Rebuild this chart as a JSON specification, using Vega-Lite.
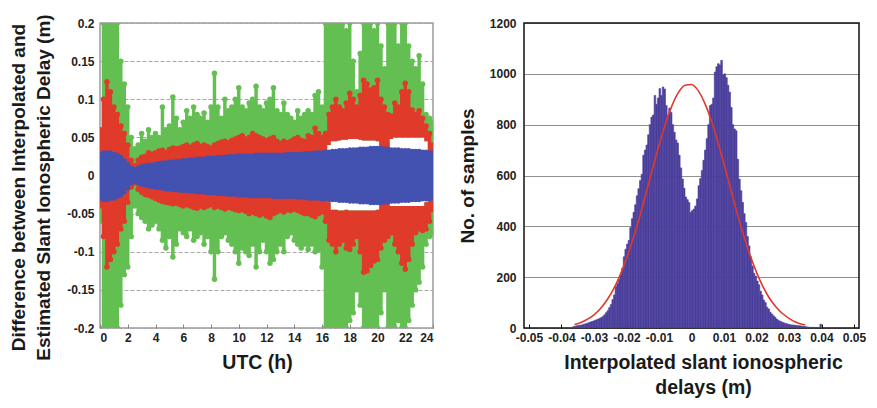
{
  "$schema": "https://vega.github.io/schema/vega-lite/v6.json",
  "padding": {"left": 8, "top": 13, "right": 5, "bottom": 5},
  "background": "white",
  "config": {
    "font": "Liberation Sans",
    "axis": {"labelFont": "Liberation Sans", "labelFontWeight": "bold", "labelFontSize": 12, "labelColor": "#222", "titleFont": "Liberation Sans", "titleFontWeight": "bold", "titleColor": "#1a1a1a", "ticks": false, "domain": false, "labelPadding": 6, "labelExpr": "'' + datum.value"},
    "axisX": {"tickCount": 10},
    "axisY": {"tickCount": 8},
    "concat": {"spacing": 22}
  },
  "datasets": {
    "env": [
      {"t":0,"go":0.06,"ro":0.06,"ri":0.02,"bt":0.028,"bb":-0.03,"rin":-0.02,"rn":-0.04,"gn":-0.06},
      {"t":0.25,"go":0.2,"ro":0.1,"ri":0.02,"bt":0.03,"bb":-0.032,"rin":-0.02,"rn":-0.08,"gn":-0.2},
      {"t":0.5,"go":0.2,"ro":0.123,"ri":0.02,"bt":0.03,"bb":-0.032,"rin":-0.03,"rn":-0.12,"gn":-0.2},
      {"t":0.75,"go":0.2,"ro":0.11,"ri":0.02,"bt":0.03,"bb":-0.03,"rin":-0.02,"rn":-0.11,"gn":-0.2},
      {"t":1,"go":0.2,"ro":0.09,"ri":0.02,"bt":0.028,"bb":-0.03,"rin":-0.02,"rn":-0.1,"gn":-0.2},
      {"t":1.25,"go":0.2,"ro":0.08,"ri":0.02,"bt":0.027,"bb":-0.028,"rin":-0.02,"rn":-0.09,"gn":-0.2},
      {"t":1.5,"go":0.15,"ro":0.065,"ri":0.02,"bt":0.024,"bb":-0.026,"rin":-0.02,"rn":-0.07,"gn":-0.17},
      {"t":1.75,"go":0.12,"ro":0.055,"ri":0.015,"bt":0.02,"bb":-0.022,"rin":-0.015,"rn":-0.06,"gn":-0.13},
      {"t":2,"go":0.09,"ro":0.04,"ri":0.01,"bt":0.015,"bb":-0.017,"rin":-0.01,"rn":-0.035,"gn":-0.12},
      {"t":2.25,"go":0.05,"ro":0.02,"ri":0.005,"bt":0.01,"bb":-0.01,"rin":-0.005,"rn":-0.015,"gn":-0.08},
      {"t":2.5,"go":0.035,"ro":0.013,"ri":0.005,"bt":0.008,"bb":-0.008,"rin":-0.005,"rn":-0.01,"gn":-0.04},
      {"t":2.75,"go":0.04,"ro":0.02,"ri":0.006,"bt":0.01,"bb":-0.01,"rin":-0.006,"rn":-0.018,"gn":-0.05},
      {"t":3,"go":0.055,"ro":0.024,"ri":0.008,"bt":0.012,"bb":-0.012,"rin":-0.008,"rn":-0.022,"gn":-0.055},
      {"t":3.25,"go":0.045,"ro":0.025,"ri":0.01,"bt":0.013,"bb":-0.013,"rin":-0.01,"rn":-0.025,"gn":-0.06},
      {"t":3.5,"go":0.06,"ro":0.03,"ri":0.01,"bt":0.014,"bb":-0.014,"rin":-0.01,"rn":-0.026,"gn":-0.07},
      {"t":3.75,"go":0.05,"ro":0.028,"ri":0.01,"bt":0.014,"bb":-0.015,"rin":-0.01,"rn":-0.028,"gn":-0.065},
      {"t":4,"go":0.055,"ro":0.03,"ri":0.01,"bt":0.015,"bb":-0.016,"rin":-0.01,"rn":-0.03,"gn":-0.06},
      {"t":4.25,"go":0.05,"ro":0.032,"ri":0.01,"bt":0.016,"bb":-0.016,"rin":-0.01,"rn":-0.032,"gn":-0.07},
      {"t":4.5,"go":0.09,"ro":0.033,"ri":0.012,"bt":0.017,"bb":-0.017,"rin":-0.012,"rn":-0.034,"gn":-0.085},
      {"t":4.75,"go":0.06,"ro":0.03,"ri":0.012,"bt":0.017,"bb":-0.018,"rin":-0.012,"rn":-0.035,"gn":-0.095},
      {"t":5,"go":0.065,"ro":0.034,"ri":0.012,"bt":0.018,"bb":-0.018,"rin":-0.012,"rn":-0.036,"gn":-0.08},
      {"t":5.25,"go":0.103,"ro":0.036,"ri":0.013,"bt":0.018,"bb":-0.019,"rin":-0.013,"rn":-0.037,"gn":-0.107},
      {"t":5.5,"go":0.075,"ro":0.035,"ri":0.013,"bt":0.019,"bb":-0.019,"rin":-0.013,"rn":-0.036,"gn":-0.09},
      {"t":5.75,"go":0.06,"ro":0.036,"ri":0.013,"bt":0.019,"bb":-0.02,"rin":-0.013,"rn":-0.038,"gn":-0.07},
      {"t":6,"go":0.07,"ro":0.038,"ri":0.014,"bt":0.02,"bb":-0.02,"rin":-0.014,"rn":-0.04,"gn":-0.075},
      {"t":6.25,"go":0.085,"ro":0.04,"ri":0.014,"bt":0.02,"bb":-0.02,"rin":-0.014,"rn":-0.038,"gn":-0.08},
      {"t":6.5,"go":0.075,"ro":0.037,"ri":0.014,"bt":0.021,"bb":-0.021,"rin":-0.014,"rn":-0.04,"gn":-0.07},
      {"t":6.75,"go":0.09,"ro":0.04,"ri":0.015,"bt":0.021,"bb":-0.021,"rin":-0.015,"rn":-0.042,"gn":-0.085},
      {"t":7,"go":0.08,"ro":0.042,"ri":0.015,"bt":0.022,"bb":-0.022,"rin":-0.015,"rn":-0.043,"gn":-0.08},
      {"t":7.25,"go":0.075,"ro":0.038,"ri":0.015,"bt":0.022,"bb":-0.022,"rin":-0.015,"rn":-0.04,"gn":-0.075},
      {"t":7.5,"go":0.082,"ro":0.04,"ri":0.015,"bt":0.022,"bb":-0.022,"rin":-0.015,"rn":-0.042,"gn":-0.09},
      {"t":7.75,"go":0.07,"ro":0.038,"ri":0.015,"bt":0.023,"bb":-0.023,"rin":-0.015,"rn":-0.04,"gn":-0.08},
      {"t":8,"go":0.09,"ro":0.036,"ri":0.015,"bt":0.023,"bb":-0.023,"rin":-0.015,"rn":-0.038,"gn":-0.1},
      {"t":8.25,"go":0.134,"ro":0.04,"ri":0.015,"bt":0.023,"bb":-0.023,"rin":-0.015,"rn":-0.042,"gn":-0.136},
      {"t":8.5,"go":0.09,"ro":0.042,"ri":0.016,"bt":0.024,"bb":-0.024,"rin":-0.016,"rn":-0.04,"gn":-0.1},
      {"t":8.75,"go":0.075,"ro":0.044,"ri":0.016,"bt":0.024,"bb":-0.024,"rin":-0.016,"rn":-0.042,"gn":-0.08},
      {"t":9,"go":0.1,"ro":0.045,"ri":0.016,"bt":0.024,"bb":-0.024,"rin":-0.016,"rn":-0.044,"gn":-0.075},
      {"t":9.25,"go":0.085,"ro":0.043,"ri":0.016,"bt":0.025,"bb":-0.025,"rin":-0.016,"rn":-0.042,"gn":-0.085},
      {"t":9.5,"go":0.09,"ro":0.046,"ri":0.017,"bt":0.025,"bb":-0.025,"rin":-0.017,"rn":-0.043,"gn":-0.09},
      {"t":9.75,"go":0.1,"ro":0.048,"ri":0.017,"bt":0.025,"bb":-0.025,"rin":-0.017,"rn":-0.045,"gn":-0.1},
      {"t":10,"go":0.115,"ro":0.05,"ri":0.017,"bt":0.026,"bb":-0.026,"rin":-0.017,"rn":-0.046,"gn":-0.115},
      {"t":10.25,"go":0.09,"ro":0.052,"ri":0.017,"bt":0.026,"bb":-0.026,"rin":-0.017,"rn":-0.045,"gn":-0.095},
      {"t":10.5,"go":0.085,"ro":0.048,"ri":0.017,"bt":0.026,"bb":-0.026,"rin":-0.017,"rn":-0.047,"gn":-0.1},
      {"t":10.75,"go":0.095,"ro":0.05,"ri":0.018,"bt":0.026,"bb":-0.027,"rin":-0.018,"rn":-0.05,"gn":-0.105},
      {"t":11,"go":0.1,"ro":0.055,"ri":0.018,"bt":0.026,"bb":-0.027,"rin":-0.018,"rn":-0.048,"gn":-0.09},
      {"t":11.25,"go":0.117,"ro":0.052,"ri":0.018,"bt":0.027,"bb":-0.027,"rin":-0.018,"rn":-0.05,"gn":-0.12},
      {"t":11.5,"go":0.09,"ro":0.05,"ri":0.018,"bt":0.027,"bb":-0.027,"rin":-0.018,"rn":-0.052,"gn":-0.1},
      {"t":11.75,"go":0.085,"ro":0.048,"ri":0.018,"bt":0.027,"bb":-0.027,"rin":-0.018,"rn":-0.05,"gn":-0.085},
      {"t":12,"go":0.095,"ro":0.046,"ri":0.018,"bt":0.027,"bb":-0.027,"rin":-0.018,"rn":-0.053,"gn":-0.1},
      {"t":12.25,"go":0.1,"ro":0.048,"ri":0.018,"bt":0.027,"bb":-0.027,"rin":-0.018,"rn":-0.055,"gn":-0.115},
      {"t":12.5,"go":0.115,"ro":0.05,"ri":0.018,"bt":0.027,"bb":-0.028,"rin":-0.018,"rn":-0.05,"gn":-0.11},
      {"t":12.75,"go":0.085,"ro":0.045,"ri":0.018,"bt":0.027,"bb":-0.028,"rin":-0.018,"rn":-0.048,"gn":-0.1},
      {"t":13,"go":0.08,"ro":0.042,"ri":0.018,"bt":0.027,"bb":-0.028,"rin":-0.018,"rn":-0.046,"gn":-0.09},
      {"t":13.25,"go":0.095,"ro":0.045,"ri":0.018,"bt":0.027,"bb":-0.028,"rin":-0.018,"rn":-0.048,"gn":-0.1},
      {"t":13.5,"go":0.08,"ro":0.043,"ri":0.018,"bt":0.028,"bb":-0.028,"rin":-0.018,"rn":-0.045,"gn":-0.08},
      {"t":13.75,"go":0.075,"ro":0.045,"ri":0.018,"bt":0.028,"bb":-0.028,"rin":-0.018,"rn":-0.046,"gn":-0.075},
      {"t":14,"go":0.07,"ro":0.048,"ri":0.018,"bt":0.028,"bb":-0.028,"rin":-0.018,"rn":-0.044,"gn":-0.085},
      {"t":14.25,"go":0.085,"ro":0.05,"ri":0.018,"bt":0.028,"bb":-0.029,"rin":-0.018,"rn":-0.046,"gn":-0.09},
      {"t":14.5,"go":0.075,"ro":0.046,"ri":0.018,"bt":0.028,"bb":-0.029,"rin":-0.018,"rn":-0.048,"gn":-0.095},
      {"t":14.75,"go":0.08,"ro":0.045,"ri":0.018,"bt":0.029,"bb":-0.029,"rin":-0.018,"rn":-0.05,"gn":-0.09},
      {"t":15,"go":0.085,"ro":0.052,"ri":0.019,"bt":0.029,"bb":-0.03,"rin":-0.019,"rn":-0.05,"gn":-0.097},
      {"t":15.25,"go":0.08,"ro":0.05,"ri":0.019,"bt":0.029,"bb":-0.03,"rin":-0.019,"rn":-0.052,"gn":-0.09},
      {"t":15.5,"go":0.105,"ro":0.062,"ri":0.019,"bt":0.03,"bb":-0.03,"rin":-0.019,"rn":-0.054,"gn":-0.1},
      {"t":15.75,"go":0.11,"ro":0.055,"ri":0.019,"bt":0.03,"bb":-0.03,"rin":-0.019,"rn":-0.05,"gn":-0.097},
      {"t":16,"go":0.09,"ro":0.05,"ri":0.02,"bt":0.03,"bb":-0.031,"rin":-0.02,"rn":-0.048,"gn":-0.12},
      {"t":16.25,"go":0.2,"ro":0.055,"ri":0.02,"bt":0.031,"bb":-0.031,"rin":-0.02,"rn":-0.06,"gn":-0.2},
      {"t":16.5,"go":0.2,"ro":0.08,"ri":0.04,"bt":0.031,"bb":-0.032,"rin":-0.035,"rn":-0.085,"gn":-0.2},
      {"t":16.75,"go":0.2,"ro":0.09,"ri":0.045,"bt":0.032,"bb":-0.032,"rin":-0.045,"rn":-0.09,"gn":-0.2},
      {"t":17,"go":0.2,"ro":0.1,"ri":0.045,"bt":0.032,"bb":-0.032,"rin":-0.045,"rn":-0.1,"gn":-0.2},
      {"t":17.25,"go":0.2,"ro":0.09,"ri":0.046,"bt":0.033,"bb":-0.033,"rin":-0.046,"rn":-0.09,"gn":-0.2},
      {"t":17.5,"go":0.2,"ro":0.085,"ri":0.047,"bt":0.033,"bb":-0.033,"rin":-0.046,"rn":-0.085,"gn":-0.2},
      {"t":17.75,"go":0.19,"ro":0.095,"ri":0.047,"bt":0.033,"bb":-0.033,"rin":-0.045,"rn":-0.095,"gn":-0.2},
      {"t":18,"go":0.2,"ro":0.108,"ri":0.048,"bt":0.034,"bb":-0.034,"rin":-0.046,"rn":-0.097,"gn":-0.19},
      {"t":18.25,"go":0.15,"ro":0.1,"ri":0.048,"bt":0.034,"bb":-0.034,"rin":-0.046,"rn":-0.09,"gn":-0.18},
      {"t":18.5,"go":0.11,"ro":0.09,"ri":0.048,"bt":0.034,"bb":-0.034,"rin":-0.046,"rn":-0.08,"gn":-0.15},
      {"t":18.75,"go":0.16,"ro":0.105,"ri":0.047,"bt":0.035,"bb":-0.035,"rin":-0.046,"rn":-0.1,"gn":-0.17},
      {"t":19,"go":0.2,"ro":0.125,"ri":0.046,"bt":0.035,"bb":-0.035,"rin":-0.046,"rn":-0.127,"gn":-0.2},
      {"t":19.25,"go":0.2,"ro":0.12,"ri":0.046,"bt":0.035,"bb":-0.035,"rin":-0.046,"rn":-0.125,"gn":-0.2},
      {"t":19.5,"go":0.2,"ro":0.112,"ri":0.046,"bt":0.036,"bb":-0.036,"rin":-0.046,"rn":-0.118,"gn":-0.2},
      {"t":19.75,"go":0.19,"ro":0.115,"ri":0.046,"bt":0.036,"bb":-0.036,"rin":-0.046,"rn":-0.112,"gn":-0.2},
      {"t":20,"go":0.2,"ro":0.125,"ri":0.045,"bt":0.036,"bb":-0.036,"rin":-0.045,"rn":-0.11,"gn":-0.2},
      {"t":20.25,"go":0.17,"ro":0.1,"ri":0.03,"bt":0.036,"bb":-0.036,"rin":-0.03,"rn":-0.095,"gn":-0.18},
      {"t":20.5,"go":0.14,"ro":0.09,"ri":0.02,"bt":0.035,"bb":-0.035,"rin":-0.02,"rn":-0.085,"gn":-0.15},
      {"t":20.75,"go":0.2,"ro":0.08,"ri":0.03,"bt":0.035,"bb":-0.035,"rin":-0.03,"rn":-0.08,"gn":-0.2},
      {"t":21,"go":0.2,"ro":0.078,"ri":0.048,"bt":0.034,"bb":-0.034,"rin":-0.04,"rn":-0.075,"gn":-0.2},
      {"t":21.25,"go":0.2,"ro":0.095,"ri":0.05,"bt":0.034,"bb":-0.034,"rin":-0.04,"rn":-0.09,"gn":-0.2},
      {"t":21.5,"go":0.17,"ro":0.09,"ri":0.05,"bt":0.034,"bb":-0.034,"rin":-0.04,"rn":-0.1,"gn":-0.19},
      {"t":21.75,"go":0.2,"ro":0.11,"ri":0.05,"bt":0.033,"bb":-0.033,"rin":-0.04,"rn":-0.115,"gn":-0.2},
      {"t":22,"go":0.2,"ro":0.121,"ri":0.05,"bt":0.033,"bb":-0.033,"rin":-0.04,"rn":-0.123,"gn":-0.2},
      {"t":22.25,"go":0.17,"ro":0.11,"ri":0.05,"bt":0.033,"bb":-0.033,"rin":-0.04,"rn":-0.11,"gn":-0.19},
      {"t":22.5,"go":0.15,"ro":0.086,"ri":0.05,"bt":0.032,"bb":-0.032,"rin":-0.04,"rn":-0.09,"gn":-0.17},
      {"t":22.75,"go":0.14,"ro":0.08,"ri":0.05,"bt":0.032,"bb":-0.032,"rin":-0.04,"rn":-0.075,"gn":-0.15},
      {"t":23,"go":0.157,"ro":0.085,"ri":0.05,"bt":0.032,"bb":-0.032,"rin":-0.04,"rn":-0.07,"gn":-0.14},
      {"t":23.25,"go":0.12,"ro":0.075,"ri":0.05,"bt":0.031,"bb":-0.031,"rin":-0.04,"rn":-0.072,"gn":-0.12},
      {"t":23.5,"go":0.08,"ro":0.065,"ri":0.045,"bt":0.031,"bb":-0.031,"rin":-0.035,"rn":-0.07,"gn":-0.09},
      {"t":23.75,"go":0.075,"ro":0.055,"ri":0.02,"bt":0.03,"bb":-0.031,"rin":-0.02,"rn":-0.06,"gn":-0.08},
      {"t":24,"go":0.07,"ro":0.04,"ri":0.02,"bt":0.03,"bb":-0.03,"rin":-0.02,"rn":-0.045,"gn":-0.075}
    ],
    "hist": [
      {"b0":-0.0365,"b1":-0.036,"c":6},{"b0":-0.036,"b1":-0.0355,"c":7},{"b0":-0.0355,"b1":-0.035,"c":9},{"b0":-0.035,"b1":-0.0345,"c":10},
      {"b0":-0.0345,"b1":-0.034,"c":11},{"b0":-0.034,"b1":-0.0335,"c":12},{"b0":-0.0335,"b1":-0.033,"c":14},{"b0":-0.033,"b1":-0.0325,"c":16},
      {"b0":-0.0325,"b1":-0.032,"c":18},{"b0":-0.032,"b1":-0.0315,"c":20},{"b0":-0.0315,"b1":-0.031,"c":23},{"b0":-0.031,"b1":-0.0305,"c":25},
      {"b0":-0.0305,"b1":-0.03,"c":27},{"b0":-0.03,"b1":-0.0295,"c":30},{"b0":-0.0295,"b1":-0.029,"c":32},{"b0":-0.029,"b1":-0.0285,"c":35},
      {"b0":-0.0285,"b1":-0.028,"c":38},{"b0":-0.028,"b1":-0.0275,"c":41},{"b0":-0.0275,"b1":-0.027,"c":45},{"b0":-0.027,"b1":-0.0265,"c":52},
      {"b0":-0.0265,"b1":-0.026,"c":60},{"b0":-0.026,"b1":-0.0255,"c":68},{"b0":-0.0255,"b1":-0.025,"c":80},{"b0":-0.025,"b1":-0.0245,"c":92},
      {"b0":-0.0245,"b1":-0.024,"c":112},{"b0":-0.024,"b1":-0.0235,"c":130},{"b0":-0.0235,"b1":-0.023,"c":162},{"b0":-0.023,"b1":-0.0225,"c":175},
      {"b0":-0.0225,"b1":-0.022,"c":192},{"b0":-0.022,"b1":-0.0215,"c":210},{"b0":-0.0215,"b1":-0.021,"c":235},{"b0":-0.021,"b1":-0.0205,"c":280},
      {"b0":-0.0205,"b1":-0.02,"c":310},{"b0":-0.02,"b1":-0.0195,"c":330},{"b0":-0.0195,"b1":-0.019,"c":345},{"b0":-0.019,"b1":-0.0185,"c":395},
      {"b0":-0.0185,"b1":-0.018,"c":430},{"b0":-0.018,"b1":-0.0175,"c":455},{"b0":-0.0175,"b1":-0.017,"c":485},{"b0":-0.017,"b1":-0.0165,"c":520},
      {"b0":-0.0165,"b1":-0.016,"c":548},{"b0":-0.016,"b1":-0.0155,"c":580},{"b0":-0.0155,"b1":-0.015,"c":605},{"b0":-0.015,"b1":-0.0145,"c":680},
      {"b0":-0.0145,"b1":-0.014,"c":700},{"b0":-0.014,"b1":-0.0135,"c":720},{"b0":-0.0135,"b1":-0.013,"c":760},{"b0":-0.013,"b1":-0.0125,"c":800},
      {"b0":-0.0125,"b1":-0.012,"c":830},{"b0":-0.012,"b1":-0.0115,"c":838},{"b0":-0.0115,"b1":-0.011,"c":915},{"b0":-0.011,"b1":-0.0105,"c":880},
      {"b0":-0.0105,"b1":-0.01,"c":905},{"b0":-0.01,"b1":-0.0095,"c":942},{"b0":-0.0095,"b1":-0.009,"c":915},{"b0":-0.009,"b1":-0.0085,"c":948},
      {"b0":-0.0085,"b1":-0.008,"c":940},{"b0":-0.008,"b1":-0.0075,"c":875},{"b0":-0.0075,"b1":-0.007,"c":836},{"b0":-0.007,"b1":-0.0065,"c":865},
      {"b0":-0.0065,"b1":-0.006,"c":848},{"b0":-0.006,"b1":-0.0055,"c":800},{"b0":-0.0055,"b1":-0.005,"c":770},{"b0":-0.005,"b1":-0.0045,"c":740},
      {"b0":-0.0045,"b1":-0.004,"c":728},{"b0":-0.004,"b1":-0.0035,"c":680},{"b0":-0.0035,"b1":-0.003,"c":630},{"b0":-0.003,"b1":-0.0025,"c":586},
      {"b0":-0.0025,"b1":-0.002,"c":550},{"b0":-0.002,"b1":-0.0015,"c":515},{"b0":-0.0015,"b1":-0.001,"c":505},{"b0":-0.001,"b1":-0.0005,"c":494},
      {"b0":-0.0005,"b1":0,"c":455},{"b0":0,"b1":0.0005,"c":462},{"b0":0.0005,"b1":0.001,"c":468},{"b0":0.001,"b1":0.0015,"c":480},
      {"b0":0.0015,"b1":0.002,"c":508},{"b0":0.002,"b1":0.0025,"c":560},{"b0":0.0025,"b1":0.003,"c":588},{"b0":0.003,"b1":0.0035,"c":620},
      {"b0":0.0035,"b1":0.004,"c":660},{"b0":0.004,"b1":0.0045,"c":700},{"b0":0.0045,"b1":0.005,"c":745},{"b0":0.005,"b1":0.0055,"c":800},
      {"b0":0.0055,"b1":0.006,"c":875},{"b0":0.006,"b1":0.0065,"c":880},{"b0":0.0065,"b1":0.007,"c":905},{"b0":0.007,"b1":0.0075,"c":1007},
      {"b0":0.0075,"b1":0.008,"c":1028},{"b0":0.008,"b1":0.0085,"c":1040},{"b0":0.0085,"b1":0.009,"c":1035},{"b0":0.009,"b1":0.0095,"c":1053},
      {"b0":0.0095,"b1":0.01,"c":995},{"b0":0.01,"b1":0.0105,"c":1000},{"b0":0.0105,"b1":0.011,"c":985},{"b0":0.011,"b1":0.0115,"c":955},
      {"b0":0.0115,"b1":0.012,"c":928},{"b0":0.012,"b1":0.0125,"c":868},{"b0":0.0125,"b1":0.013,"c":800},{"b0":0.013,"b1":0.0135,"c":783},
      {"b0":0.0135,"b1":0.014,"c":776},{"b0":0.014,"b1":0.0145,"c":664},{"b0":0.0145,"b1":0.015,"c":586},{"b0":0.015,"b1":0.0155,"c":540},
      {"b0":0.0155,"b1":0.016,"c":494},{"b0":0.016,"b1":0.0165,"c":450},{"b0":0.0165,"b1":0.017,"c":415},{"b0":0.017,"b1":0.0175,"c":360},
      {"b0":0.0175,"b1":0.018,"c":323},{"b0":0.018,"b1":0.0185,"c":280},{"b0":0.0185,"b1":0.019,"c":244},{"b0":0.019,"b1":0.0195,"c":215},
      {"b0":0.0195,"b1":0.02,"c":204},{"b0":0.02,"b1":0.0205,"c":185},{"b0":0.0205,"b1":0.021,"c":170},{"b0":0.021,"b1":0.0215,"c":145},
      {"b0":0.0215,"b1":0.022,"c":130},{"b0":0.022,"b1":0.0225,"c":110},{"b0":0.0225,"b1":0.023,"c":100},{"b0":0.023,"b1":0.0235,"c":82},
      {"b0":0.0235,"b1":0.024,"c":75},{"b0":0.024,"b1":0.0245,"c":62},{"b0":0.0245,"b1":0.025,"c":55},{"b0":0.025,"b1":0.0255,"c":48},
      {"b0":0.0255,"b1":0.026,"c":42},{"b0":0.026,"b1":0.0265,"c":35},{"b0":0.0265,"b1":0.027,"c":30},{"b0":0.027,"b1":0.0275,"c":27},
      {"b0":0.0275,"b1":0.028,"c":24},{"b0":0.028,"b1":0.0285,"c":21},{"b0":0.0285,"b1":0.029,"c":19},{"b0":0.029,"b1":0.0295,"c":17},
      {"b0":0.0295,"b1":0.03,"c":15},{"b0":0.03,"b1":0.0305,"c":13},{"b0":0.0305,"b1":0.031,"c":12},{"b0":0.031,"b1":0.0315,"c":12},
      {"b0":0.0315,"b1":0.032,"c":11},{"b0":0.032,"b1":0.0325,"c":10},{"b0":0.0325,"b1":0.033,"c":9},{"b0":0.033,"b1":0.0335,"c":9},
      {"b0":0.0335,"b1":0.034,"c":8},{"b0":0.034,"b1":0.0345,"c":7},{"b0":0.0345,"b1":0.035,"c":6},{"b0":0.035,"b1":0.0355,"c":5},
      {"b0":0.0355,"b1":0.036,"c":4},{"b0":0.036,"b1":0.0365,"c":3},{"b0":0.037,"b1":0.0375,"c":3},{"b0":0.0395,"b1":0.04,"c":15}
    ],
    "fit": [
      {"x":-0.036,"y":14},{"x":-0.034,"y":22},{"x":-0.032,"y":35},{"x":-0.03,"y":52},{"x":-0.028,"y":77},{"x":-0.026,"y":110},
      {"x":-0.024,"y":153},{"x":-0.022,"y":207},{"x":-0.02,"y":273},{"x":-0.018,"y":350},{"x":-0.016,"y":436},{"x":-0.014,"y":530},
      {"x":-0.012,"y":626},{"x":-0.01,"y":719},{"x":-0.008,"y":804},{"x":-0.006,"y":875},{"x":-0.004,"y":927},{"x":-0.002,"y":955},
      {"x":0,"y":958},{"x":0.002,"y":935},{"x":0.004,"y":887},{"x":0.006,"y":820},{"x":0.008,"y":737},{"x":0.01,"y":645},
      {"x":0.012,"y":549},{"x":0.014,"y":454},{"x":0.016,"y":366},{"x":0.018,"y":287},{"x":0.02,"y":219},{"x":0.022,"y":163},
      {"x":0.024,"y":117},{"x":0.026,"y":83},{"x":0.028,"y":57},{"x":0.03,"y":38},{"x":0.032,"y":24},{"x":0.034,"y":15},{"x":0.035,"y":12}
    ]
  },
  "hconcat": [
    {
      "width": 333,
      "height": 305,
      "view": {"stroke": "#9a9a9a", "strokeWidth": 1.5},
      "data": {"name": "env"},
      "encoding": {
        "x": {"field": "t", "type": "quantitative", "scale": {"domain": [0, 24], "nice": false},
          "axis": {"grid": false, "ticks": true, "tickSize": -4, "tickColor": "#888", "tickWidth": 1, "labelPadding": 8, "title": "UTC (h)", "titleFontSize": 19.5, "titlePadding": 10, "titleX": 157}}
      },
      "layer": [
        {"mark": {"type": "area", "color": "#64bf52", "clip": true, "interpolate": "step"},
         "encoding": {"y": {"field": "go", "type": "quantitative", "scale": {"domain": [-0.2, 0.2], "nice": false},
            "axis": {"grid": true, "gridColor": "#a8a8a8", "gridDash": [4, 2], "gridWidth": 1.2,
              "title": ["Difference between Interpolated and", "Estimated Slant Ionospheric Delay (m)"], "titleFontSize": 19, "titleLineHeight": 25, "titlePadding": 13, "titleY": 164}},
           "y2": {"field": "ri"}}},
        {"mark": {"type": "area", "color": "#64bf52", "clip": true, "interpolate": "step"},
         "encoding": {"y": {"field": "rin", "type": "quantitative"}, "y2": {"field": "gn"}}},
        {"transform": [{"fold": ["go", "gn"], "as": ["k", "v"]}],
         "mark": {"type": "circle", "color": "#64bf52", "size": 30, "opacity": 1, "clip": true},
         "encoding": {"y": {"field": "v", "type": "quantitative"}}},
        {"mark": {"type": "area", "color": "#e03a2a", "clip": true, "interpolate": "step"},
         "encoding": {"y": {"field": "ro", "type": "quantitative"}, "y2": {"field": "ri"}}},
        {"mark": {"type": "area", "color": "#e03a2a", "clip": true, "interpolate": "step"},
         "encoding": {"y": {"field": "rin", "type": "quantitative"}, "y2": {"field": "rn"}}},
        {"transform": [{"fold": ["ro", "rn"], "as": ["k", "v"]}],
         "mark": {"type": "circle", "color": "#e03a2a", "size": 30, "opacity": 1, "clip": true},
         "encoding": {"y": {"field": "v", "type": "quantitative"}}},
        {"mark": {"type": "area", "color": "#4351b0", "clip": true, "interpolate": "step"},
         "encoding": {"y": {"field": "bt", "type": "quantitative"}, "y2": {"field": "bb"}}},
        {"transform": [{"fold": ["bt", "bb"], "as": ["k", "v"]}],
         "mark": {"type": "circle", "color": "#4351b0", "size": 22, "opacity": 1, "clip": true},
         "encoding": {"y": {"field": "v", "type": "quantitative"}}}
      ]
    },
    {
      "width": 335,
      "height": 305,
      "view": {"stroke": "#111", "strokeWidth": 1.5},
      "layer": [
        {"data": {"name": "hist"},
         "mark": {"type": "bar", "color": "#4b3f9c", "stroke": "#4b3f9c", "strokeWidth": 0.6, "clip": true, "orient": "vertical"},
         "encoding": {
           "x": {"field": "b0", "type": "quantitative", "scale": {"domain": [-0.05, 0.05], "nice": false},
             "axis": {"grid": false, "ticks": true, "tickSize": -4, "tickColor": "#111", "tickWidth": 1, "labelPadding": 8,
               "title": ["Interpolated slant ionospheric", "delays (m)"], "titleFontSize": 19.5, "titleLineHeight": 25, "titlePadding": 10, "titleX": 179}},
           "x2": {"field": "b1"},
           "y": {"field": "c", "type": "quantitative", "scale": {"domain": [0, 1200], "nice": false},
             "axis": {"grid": true, "gridColor": "#222", "gridDash": [1, 1], "gridWidth": 1, "labelPadding": 8,
               "title": "No. of samples", "titleFontSize": 19, "titlePadding": 12}},
           "y2": {"datum": 0}
         }},
        {"data": {"name": "fit"},
         "mark": {"type": "line", "color": "#e0392b", "strokeWidth": 1.6, "interpolate": "monotone"},
         "encoding": {"x": {"field": "x", "type": "quantitative"}, "y": {"field": "y", "type": "quantitative"}}}
      ]
    }
  ]
}
